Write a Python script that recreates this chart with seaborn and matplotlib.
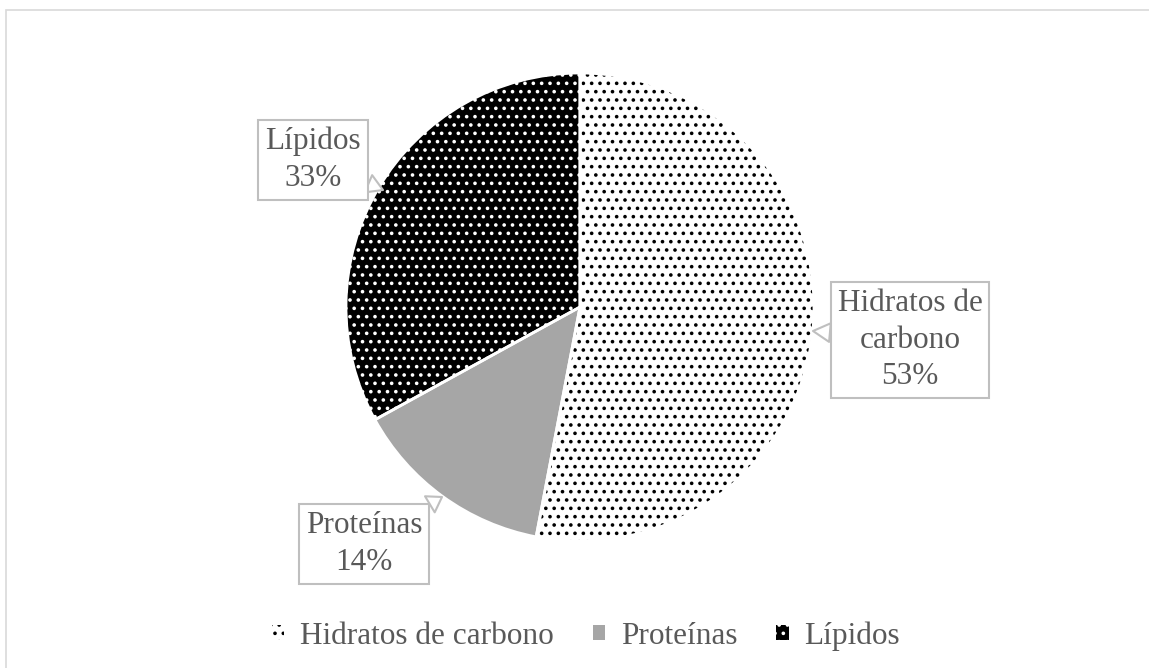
import matplotlib
matplotlib.use("Agg")
import matplotlib.pyplot as plt
from matplotlib.patches import Patch, Rectangle
import seaborn as sns

# data
categories = ['Hidratos de carbono', 'Proteínas', 'Lípidos']
shares = [53, 14, 33]
box_labels = ['Hidratos de\ncarbono\n53%', 'Proteínas\n14%', 'Lípidos\n33%']

sns.set_theme(style="white")
plt.rcParams['font.family'] = ['Liberation Serif', 'DejaVu Serif']
plt.rcParams['hatch.linewidth'] = 1.4

W, H = 1149, 668
fig = plt.figure(figsize=(W / 100, H / 100), dpi=100)
ax = fig.add_axes([0, 0, 1, 1])
ax.axis('off')

text_col = '#595959'
box_col = '#bfbfbf'
fs = 22.5

# outer chart frame
fig.patches.append(Rectangle((6 / W, -0.05), 1.05, 1 - 10 / H + 0.05, transform=fig.transFigure,
                             fill=False, edgecolor='#d9d9d9', linewidth=1.2))

center = (580, H - 307)
radius = 234
faces = ['white', '#a6a6a6', 'black']
hatch_cols = ['black', '#a6a6a6', 'white']
hatches = ['..', None, '..']

wedges, _ = ax.pie(shares, startangle=90, counterclock=False, center=center, radius=radius,
                   colors=faces, wedgeprops=dict(linewidth=0))
for w, hc, hp in zip(wedges, hatch_cols, hatches):
    w.set_edgecolor(hc)
    w.set_linewidth(0)
    if hp:
        w.set_hatch(hp)

# white separators on top
sep, _ = ax.pie(shares, startangle=90, counterclock=False, center=center, radius=radius,
                colors=['none'] * 3, wedgeprops=dict(linewidth=2, edgecolor='white', fill=False))

ax.set_xlim(0, W)
ax.set_ylim(0, H)
ax.set_aspect('equal')

# callout labels
text_pos = [(910, 340), (364, 544), (313, 160)]
point_pos = [(813, 331), (442, 497), (383, 190)]
for lab, (tx, ty), (px, py) in zip(box_labels, text_pos, point_pos):
    ax.annotate(lab, xy=(px, H - py), xytext=(tx, H - ty), ha='center', va='center',
                fontsize=fs, color=text_col, linespacing=1.35, multialignment='center',
                bbox=dict(boxstyle='square,pad=0.22', fc='white', ec=box_col, lw=1.5),
                arrowprops=dict(arrowstyle='wedge,tail_width=0.6,shrink_factor=0.5',
                                fc='white', ec=box_col, lw=1.5, shrinkA=0, shrinkB=0))

handles = [Patch(facecolor=f, edgecolor=hc, hatch=hp, linewidth=0)
           for f, hc, hp in zip(faces, hatch_cols, hatches)]
fig.legend(handles, categories, loc='center', bbox_to_anchor=(586 / W, 1 - 636 / H), ncol=3,
           frameon=False, fontsize=fs, labelcolor=text_col, handlelength=0.4, handleheight=0.4,
           handletextpad=0.5, columnspacing=1.25)

fig.savefig('out.png', dpi=100)
